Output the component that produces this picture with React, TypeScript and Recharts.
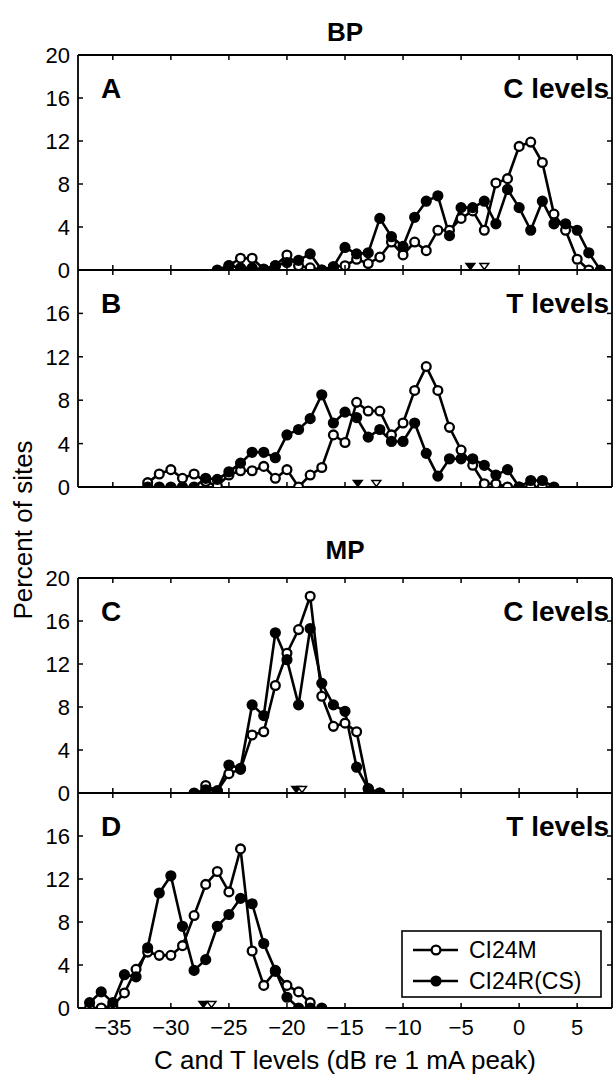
import React from 'react';
import { ComposedChart, Line, Scatter, XAxis, YAxis } from 'recharts';

const W = 615;
const H = 1075;
const LEFT = 78;
const RIGHT = 612;
const FONT = '"Liberation Sans", Arial, Helvetica, sans-serif';

// ---- axis ticks / labels ----
const xTicks = [-35, -30, -25, -20, -15, -10, -5, 0, 5];
const xTickLabels = ['\u221235', '\u221230', '\u221225', '\u221220', '\u221215', '\u221210', '\u22125', '0', '5'];
const yTicks = [0, 4, 8, 12, 16, 20];
const yTickLabels = ['0', '4', '8', '12', '16', '20'];
const xDomain = [-38, 8];
const yDomain = [0, 20];

const seriesNames = ['CI24M', 'CI24R(CS)'];
const groupTitles = ['BP', 'MP'];
const panelLetters = ['A', 'B', 'C', 'D'];
const panelLevels = ['C levels', 'T levels', 'C levels', 'T levels'];
const xAxisTitle = 'C and T levels (dB re 1 mA peak)';
const yAxisTitle = 'Percent of sites';

// ---- Panel A: BP, C levels ----
const aOpenX = [-25, -24, -23, -22, -21, -20, -19, -18, -17, -16, -15, -14, -13, -12, -11, -10, -9, -8, -7, -6, -5, -4, -3, -2, -1, 0, 1, 2, 3, 4, 5, 6];
const aOpenY = [0.4, 1.1, 1.1, 0.1, 0.4, 1.4, 0.4, 0.2, 0, 0.3, 0.4, 1.0, 0.6, 1.2, 2.6, 1.4, 2.6, 1.8, 3.7, 3.7, 4.8, 5.5, 3.7, 8.1, 8.5, 11.5, 11.9, 10.0, 5.2, 3.7, 1.0, 0];
const aFillX = [-26, -25, -24, -23, -22, -21, -20, -19, -18, -17, -16, -15, -14, -13, -12, -11, -10, -9, -8, -7, -6, -5, -4, -3, -2, -1, 0, 1, 2, 3, 4, 5, 6, 7];
const aFillY = [0, 0.4, 0.2, 0.2, 0, 0.4, 0.7, 0.9, 1.5, 0, 0.3, 2.1, 1.5, 1.6, 4.8, 3.1, 2.2, 4.9, 6.4, 6.9, 3.2, 5.8, 5.8, 6.4, 4.3, 7.5, 5.8, 3.7, 6.4, 4.3, 4.3, 3.7, 1.6, 0];
const aMeans = [-4.2, -3.0]; // [CI24R(CS), CI24M]

// ---- Panel B: BP, T levels ----
const bOpenX = [-32, -31, -30, -29, -28, -27, -26, -25, -24, -23, -22, -21, -20, -19, -18, -17, -16, -15, -14, -13, -12, -11, -10, -9, -8, -7, -6, -5, -4, -3, -2, -1, 0, 1, 2];
const bOpenY = [0.4, 1.2, 1.6, 0.8, 1.2, 0.5, 0.1, 1.1, 1.5, 1.5, 1.9, 0.8, 1.6, 0, 1.1, 1.8, 4.8, 4.1, 7.8, 7.0, 7.0, 4.8, 5.9, 8.9, 11.1, 8.9, 5.5, 3.4, 2.0, 0.3, 0.3, 0, 0, 0, 0];
const bFillX = [-32, -31, -30, -29, -28, -27, -26, -25, -24, -23, -22, -21, -20, -19, -18, -17, -16, -15, -14, -13, -12, -11, -10, -9, -8, -7, -6, -5, -4, -3, -2, -1, 0, 1, 2, 3];
const bFillY = [0, 0, 0, 0, 0, 0.8, 0.7, 1.4, 2.2, 3.2, 3.2, 2.7, 4.8, 5.3, 6.3, 8.5, 5.9, 6.9, 6.4, 4.6, 5.3, 4.2, 4.2, 5.9, 3.1, 1.0, 2.6, 2.6, 2.6, 2.0, 1.1, 1.6, 0, 0.6, 0.6, 0];
const bMeans = [-13.9, -12.3];

// ---- Panel C: MP, C levels ----
const cOpenX = [-27, -26, -25, -24, -23, -22, -21, -20, -19, -18, -17, -16, -15, -14, -13, -12];
const cOpenY = [0.7, 0.2, 1.8, 2.2, 5.4, 5.7, 10.0, 13.0, 15.2, 18.3, 9.0, 6.2, 6.5, 5.7, 0.4, 0];
const cFillX = [-28, -27, -26, -25, -24, -23, -22, -21, -20, -19, -18, -17, -16, -15, -14, -13, -12];
const cFillY = [0, 0.3, 0.2, 2.6, 2.3, 8.2, 7.2, 14.9, 12.4, 8.2, 15.3, 10.2, 8.2, 7.6, 2.4, 0.4, 0];
const cMeans = [-19.2, -18.7];

// ---- Panel D: MP, T levels ----
const dOpenX = [-37, -36, -35, -34, -33, -32, -31, -30, -29, -28, -27, -26, -25, -24, -23, -22, -21, -20, -19, -18];
const dOpenY = [0, 0, 0.2, 1.4, 3.6, 5.2, 4.9, 4.9, 5.8, 8.6, 11.5, 12.7, 10.8, 14.8, 5.3, 2.1, 3.4, 2.1, 1.5, 0.5];
const dFillX = [-37, -36, -35, -34, -33, -32, -31, -30, -29, -28, -27, -26, -25, -24, -23, -22, -21, -20, -19, -18, -17];
const dFillY = [0.5, 1.5, 0.5, 3.1, 2.9, 5.6, 10.7, 12.3, 7.6, 3.5, 4.5, 7.6, 8.7, 10.2, 9.7, 6.0, 3.5, 1.0, 0, 0, 0];
const dMeans = [-27.2, -26.5];

type Pt = { x: number; y: number };
const toPts = (xs: number[], ys: number[]): Pt[] => xs.map((x, i) => ({ x, y: ys[i] }));

const panels = [
  { top: 55, bottom: 270, open: toPts(aOpenX, aOpenY), fill: toPts(aFillX, aFillY), means: aMeans, xLabels: false, show20: true },
  { top: 270, bottom: 487, open: toPts(bOpenX, bOpenY), fill: toPts(bFillX, bFillY), means: bMeans, xLabels: false, show20: false },
  { top: 578, bottom: 793, open: toPts(cOpenX, cOpenY), fill: toPts(cFillX, cFillY), means: cMeans, xLabels: false, show20: true },
  { top: 793, bottom: 1008, open: toPts(dOpenX, dOpenY), fill: toPts(dFillX, dFillY), means: dMeans, xLabels: true, show20: false },
];

const TICK = 5;
const TICK_FS = 22;

const OPEN_DOT = { r: 4.4, fill: '#fff', stroke: '#000', strokeWidth: 2.3 };
const FILL_DOT = { r: 4.8, fill: '#000', stroke: '#000', strokeWidth: 1.6 };

function triShape(filled: boolean) {
  return (props: any) => {
    const { cx, cy } = props;
    if (typeof cx !== 'number' || typeof cy !== 'number') return <g />;
    const pts = `${cx - 4.5},${cy - 6.5} ${cx + 4.5},${cy - 6.5} ${cx},${cy - 0.5}`;
    return <polygon points={pts} fill={filled ? '#000' : '#fff'} stroke="#000" strokeWidth={1.4} />;
  };
}

function Panel({ p }: { p: typeof panels[number] }) {
  const { top, bottom } = p;
  const bottomTick = (t: any) => {
    const x = t.x;
    const idx = xTicks.indexOf(t.payload.value);
    return (
      <g>
        <line x1={x} x2={x} y1={bottom} y2={bottom - TICK} stroke="#000" strokeWidth={1.5} />
        {p.xLabels && (
          <text x={x} y={bottom + 27} textAnchor="middle" fontSize={TICK_FS} fontFamily={FONT} fill="#000">
            {xTickLabels[idx]}
          </text>
        )}
      </g>
    );
  };
  const topTick = (t: any) => (
    <line x1={t.x} x2={t.x} y1={top} y2={top + TICK} stroke="#000" strokeWidth={1.5} />
  );
  const leftTick = (t: any) => {
    const y = t.y;
    const idx = yTicks.indexOf(t.payload.value);
    const showLabel = p.show20 || t.payload.value !== 20;
    return (
      <g>
        <line x1={LEFT} x2={LEFT + TICK} y1={y} y2={y} stroke="#000" strokeWidth={1.5} />
        {showLabel && (
          <text x={LEFT - 8} y={y + 8} textAnchor="end" fontSize={TICK_FS} fontFamily={FONT} fill="#000">
            {yTickLabels[idx]}
          </text>
        )}
      </g>
    );
  };
  const rightTick = (t: any) => (
    <line x1={RIGHT} x2={RIGHT - TICK} y1={t.y} y2={t.y} stroke="#000" strokeWidth={1.5} />
  );
  const axisLine = { stroke: '#000', strokeWidth: 1.8 };
  return (
    <div style={{ position: 'absolute', left: 0, top: 0 }}>
      <ComposedChart
        width={W}
        height={H}
        margin={{ top: top - 1, bottom: H - bottom - 1, left: LEFT - 1, right: W - RIGHT - 1 }}
      >
        <XAxis xAxisId="b" type="number" dataKey="x" domain={xDomain} ticks={xTicks} allowDataOverflow height={1}
          tickSize={0} tickLine={false} axisLine={axisLine} tick={bottomTick} interval={0} />
        <XAxis xAxisId="t" orientation="top" type="number" dataKey="x" domain={xDomain} ticks={xTicks} allowDataOverflow height={1}
          tickSize={0} tickLine={false} axisLine={axisLine} tick={topTick} interval={0} />
        <YAxis yAxisId="l" type="number" domain={yDomain} ticks={yTicks} allowDataOverflow width={1}
          tickSize={0} tickLine={false} axisLine={axisLine} tick={leftTick} interval={0} />
        <YAxis yAxisId="r" orientation="right" type="number" domain={yDomain} ticks={yTicks} allowDataOverflow width={1}
          tickSize={0} tickLine={false} axisLine={axisLine} tick={rightTick} interval={0} />
        <Line xAxisId="b" yAxisId="l" data={p.open} dataKey="y" name={seriesNames[0]} stroke="#000" strokeWidth={2.6}
          dot={OPEN_DOT} isAnimationActive={false} />
        <Line xAxisId="b" yAxisId="l" data={p.fill} dataKey="y" name={seriesNames[1]} stroke="#000" strokeWidth={2.6}
          dot={FILL_DOT} isAnimationActive={false} />
        <Scatter xAxisId="b" yAxisId="l" data={[{ x: p.means[0], y: 0 }]} dataKey="y" shape={triShape(true)} isAnimationActive={false} />
        <Scatter xAxisId="b" yAxisId="l" data={[{ x: p.means[1], y: 0 }]} dataKey="y" shape={triShape(false)} isAnimationActive={false} />
      </ComposedChart>
    </div>
  );
}

export default function App() {
  const midX = (LEFT + RIGHT) / 2;
  return (
    <div style={{ position: 'absolute', left: 0, top: 0, width: W, height: H, background: '#fff', overflow: 'hidden' }}>
      {panels.map((p, i) => (
        <Panel key={i} p={p} />
      ))}
      <svg width={W} height={H} style={{ position: 'absolute', left: 0, top: 0 }} fontFamily={FONT}>
        <text x={midX} y={41} textAnchor="middle" fontSize={26} fontWeight="bold">{groupTitles[0]}</text>
        <text x={midX} y={559} textAnchor="middle" fontSize={26} fontWeight="bold">{groupTitles[1]}</text>
        {panels.map((p, i) => (
          <g key={i}>
            <text x={101} y={p.top + 43} fontSize={28} fontWeight="bold">{panelLetters[i]}</text>
            <text x={RIGHT - 3} y={p.top + 43} textAnchor="end" fontSize={28} fontWeight="bold">{panelLevels[i]}</text>
          </g>
        ))}
        <text transform={`translate(32, 530) rotate(-90)`} textAnchor="middle" fontSize={26}>{yAxisTitle}</text>
        <text x={midX} y={1069} textAnchor="middle" fontSize={26}>{xAxisTitle}</text>
        {/* legend */}
        <rect x={402} y={931} width={199} height={66} fill="#fff" stroke="#000" strokeWidth={1.6} />
        <line x1={413} x2={458} y1={950} y2={950} stroke="#000" strokeWidth={2.6} />
        <circle cx={436} cy={950} r={OPEN_DOT.r} fill="#fff" stroke="#000" strokeWidth={OPEN_DOT.strokeWidth} />
        <text x={469} y={958} fontSize={23}>{seriesNames[0]}</text>
        <line x1={413} x2={458} y1={981} y2={981} stroke="#000" strokeWidth={2.6} />
        <circle cx={436} cy={981} r={FILL_DOT.r} fill="#000" stroke="#000" strokeWidth={FILL_DOT.strokeWidth} />
        <text x={469} y={989} fontSize={23}>{seriesNames[1]}</text>
      </svg>
    </div>
  );
}
